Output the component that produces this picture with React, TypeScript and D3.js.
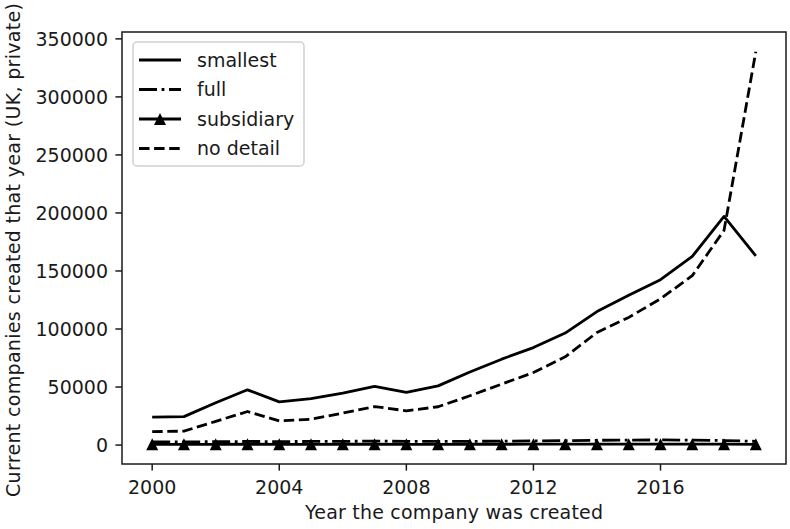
import React from 'react';
import * as d3 from 'd3';

const years = [2000, 2001, 2002, 2003, 2004, 2005, 2006, 2007, 2008, 2009, 2010, 2011, 2012, 2013, 2014, 2015, 2016, 2017, 2018, 2019];
const smallest = [24000, 24500, 36500, 47600, 37200, 40000, 44800, 50500, 45500, 51000, 63000, 74000, 84000, 96500, 115000, 129000, 142500, 162500, 197000, 163000];
const full = [2800, 2700, 2900, 3100, 3000, 3100, 3200, 3400, 3200, 3100, 3200, 3400, 3600, 3800, 4100, 4300, 4400, 4300, 3900, 3200];
const subsidiary = [600, 600, 650, 700, 650, 650, 700, 700, 650, 650, 700, 700, 750, 750, 800, 800, 800, 800, 750, 600];
const noDetail = [11500, 12000, 20400, 28900, 20800, 22300, 27500, 33200, 29500, 33000, 42500, 52500, 62500, 76000, 97000, 110000, 126000, 146000, 185000, 339000];

const xTicks = [2000, 2004, 2008, 2012, 2016];
const yTicks = [0, 50000, 100000, 150000, 200000, 250000, 300000, 350000];

const W = 790;
const H = 529;
const left = 122;
const right = 786;
const top = 32;
const bottom = 464;
const font = '"DejaVu Sans", sans-serif';
const ink = '#1a1a1a';

const series = [
  { name: 'smallest', values: smallest, dash: '', marker: false },
  { name: 'full', values: full, dash: '18 4.6 2.8 4.6', marker: false },
  { name: 'subsidiary', values: subsidiary, dash: '', marker: true },
  { name: 'no detail', values: noDetail, dash: '10.5 4.6', marker: false },
];

const tri = 'M0,-6L6,6L-6,6Z';

export default function App() {
  const xPad = (years[years.length - 1] - years[0]) * 0.05;
  const x = d3.scaleLinear()
    .domain([years[0] - xPad, years[years.length - 1] + xPad])
    .range([left, right]);

  const all = series.flatMap((s) => s.values);
  const [lo, hi] = d3.extent(all) as [number, number];
  const yPad = (hi - lo) * 0.05;
  const y = d3.scaleLinear().domain([lo - yPad, hi + yPad]).range([bottom, top]);

  const line = d3.line<number>()
    .x((_, i) => x(years[i]))
    .y((d) => y(d));

  return (
    <div style={{ position: 'absolute', left: 0, top: 0 }}>
      <svg width={W} height={H} style={{ display: 'block', background: '#fff' }}>
        {series.map((s) => (
          <g key={s.name}>
            <path d={line(s.values) || ''} fill="none" stroke="#000" strokeWidth={2.8}
              strokeDasharray={s.dash || undefined} strokeLinejoin="round" />
            {s.marker && s.values.map((v, i) => (
              <path key={i} d={tri} transform={`translate(${x(years[i])},${y(v)})`} fill="#000" />
            ))}
          </g>
        ))}

        {/* axes frame */}
        <rect x={left} y={top} width={right - left} height={bottom - top} fill="none" stroke={ink} strokeWidth={1.5} />

        {/* y axis */}
        {yTicks.map((t) => (
          <g key={t} transform={`translate(0,${y(t)})`}>
            <line x1={left - 6.6} x2={left} stroke={ink} strokeWidth={1.5} />
            <text x={left - 14} dy="0.36em" textAnchor="end" fontFamily={font} fontSize={19} fill={ink}>{t}</text>
          </g>
        ))}

        {/* x axis */}
        {xTicks.map((t) => (
          <g key={t} transform={`translate(${x(t)},0)`}>
            <line y1={bottom} y2={bottom + 6.6} stroke={ink} strokeWidth={1.5} />
            <text y={494} textAnchor="middle" fontFamily={font} fontSize={19} fill={ink}>{t}</text>
          </g>
        ))}

        <text x={(left + right) / 2} y={519} textAnchor="middle" fontFamily={font} fontSize={19} fill={ink}
          textLength={298} lengthAdjust="spacing">
          Year the company was created
        </text>
        <text transform={`translate(20,250) rotate(-90)`} textAnchor="middle"
          fontFamily={font} fontSize={19} fill={ink} textLength={494} lengthAdjust="spacing">
          Current companies created that year (UK, private)
        </text>

        {/* legend */}
        <g>
          <rect x={133} y={42} width={171} height={124} rx={4} fill="#fff" fillOpacity={0.8} stroke="#d0d0d0" strokeWidth={1.5} />
          {series.map((s, i) => {
            const ly = 60 + i * 29.5;
            return (
              <g key={s.name}>
                <line x1={139} x2={181} y1={ly} y2={ly} stroke="#000" strokeWidth={2.8}
                  strokeDasharray={s.dash || undefined} />
                {s.marker && <path d={tri} transform={`translate(160,${ly})`} fill="#000" />}
                <text x={197} y={ly} dy="0.36em" fontFamily={font} fontSize={19} fill={ink}>{s.name}</text>
              </g>
            );
          })}
        </g>
      </svg>
    </div>
  );
}
